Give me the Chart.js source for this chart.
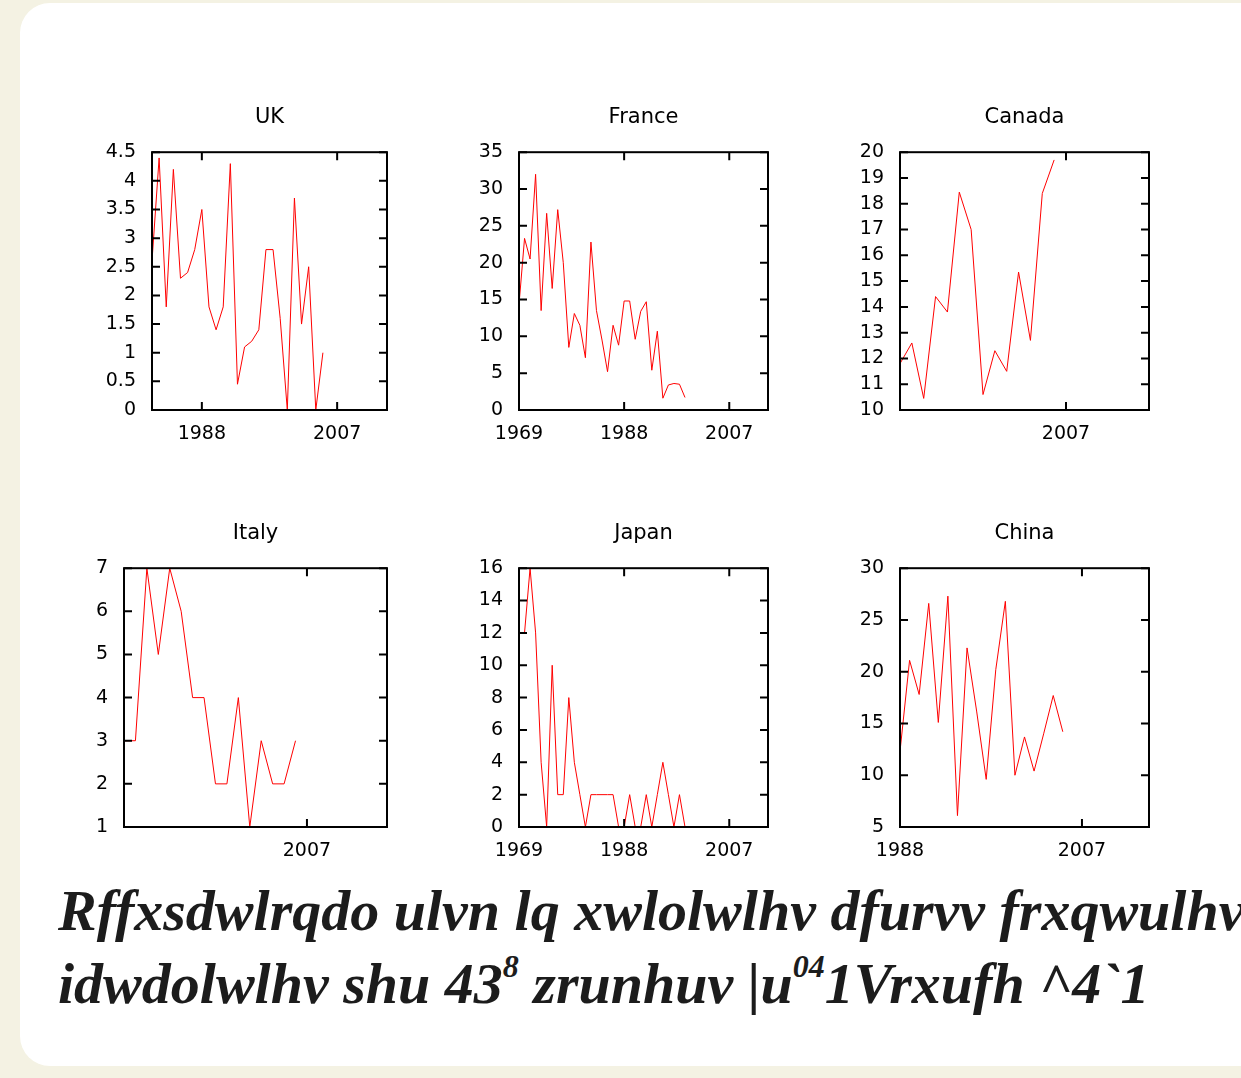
<!DOCTYPE html>
<html>
<head>
<meta charset="utf-8">
<script src="https://cdn.jsdelivr.net/npm/chart.js@4.4.0/dist/chart.umd.min.js"></script>
<style>
html, body { margin: 0; padding: 0; }
body { width: 1241px; height: 1078px; overflow: hidden; background: #f4f2e3; position: relative; }
#sheet { position: absolute; left: 20px; top: 3px; width: 1270px; height: 1063px; background: #fff; border-radius: 30px; }
.panel { position: absolute; }
#caption { position: absolute; left: 58px; top: 874px; font: italic bold 58px 'Liberation Serif', serif;
           line-height: 73px; white-space: nowrap; color: #1c1c1c; }
#caption sup { font-size: 32px; vertical-align: baseline; position: relative; top: -26px; }
</style>
</head>
<body>
<div id="sheet"></div>
<div id="caption">Rffxsdwlrqdo ulvn lq xwlolwlhv dfurvv frxqwulhv<br>idwdolwlhv shu 43<sup>8</sup> zrunhuv |u<sup>04</sup>1Vrxufh ^4`1</div>
<script>
// years on the x axis, one value per year
const years = [1969, 1970, 1971, 1972, 1973, 1974, 1975, 1976, 1977, 1978, 1979, 1980,
               1981, 1982, 1983, 1984, 1985, 1986, 1987, 1988, 1989, 1990, 1991, 1992,
               1993, 1994, 1995, 1996, 1997, 1998, 1999, 2000, 2001, 2002, 2003, 2004,
               2005, 2006];
const xTickYears = [1969, 1988, 2007];
const xMax = 2014;

// first year of each series
const ukStart = 1981, franceStart = 1969, canadaStart = 1993;
const italyStart = 1991, japanStart = 1969, chinaStart = 1988;

const ukValues = [2.6, 4.4, 1.8, 4.2, 2.3, 2.4, 2.8, 3.5, 1.8, 1.4, 1.8, 4.3, 0.45,
                  1.1, 1.2, 1.4, 2.8, 2.8, 1.6, 0, 3.7, 1.5, 2.5, 0, 1.0];
const franceValues = [14.3, 23.3, 20.5, 32, 13.5, 26.7, 16.5, 27.2, 20, 8.5, 13.1, 11.5,
                      7.1, 22.8, 13.5, 9.5, 5.2, 11.5, 8.8, 14.8, 14.8, 9.6, 13.4, 14.7,
                      5.4, 10.7, 1.6, 3.4, 3.6, 3.5, 1.7];
const canadaValues = [11.8, 12.6, 10.45, 14.4, 13.8, 18.45, 17.0, 10.6, 12.3, 11.5,
                      15.35, 12.7, 18.4, 19.7];
const italyValues = [3, 3, 7, 5, 7, 6, 4, 4, 2, 2, 4, 1, 3, 2, 2, 3];
const japanValues = [12, 12, 16, 12, 4, 0, 10, 2, 2, 8, 4, 2, 0, 2, 2, 2, 2, 2, 0, 0,
                     2, 0, 0, 2, 0, 2, 4, 2, 0, 2, 0];
const chinaValues = [12.3, 21.1, 17.8, 26.6, 15.1, 27.3, 6.1, 22.3, 16.2, 9.6, 20.2,
                     26.8, 10.0, 13.7, 10.4, 14.0, 17.7, 14.2];

// y tick ranges: [min, max, step]
const ukTicks = [0, 4.5, 0.5];
const franceTicks = [0, 35, 5];
const canadaTicks = [10, 20, 1];
const italyTicks = [1, 7, 1];
const japanTicks = [0, 16, 2];
const chinaTicks = [5, 30, 5];

// box drawn like gnuplot: frame plus inward ticks on all four sides
const framePlugin = {
    id: 'frame',
    afterDatasetsDraw(chart) {
        const ctx = chart.ctx, a = chart.chartArea;
        const x = chart.scales.x, y = chart.scales.y;
        ctx.save();
        ctx.strokeStyle = '#000';
        ctx.lineWidth = 2;
        ctx.beginPath();
        x.ticks.forEach(t => {
            const px = x.getPixelForValue(t.value);
            ctx.moveTo(px, a.bottom); ctx.lineTo(px, a.bottom - 8);
            ctx.moveTo(px, a.top); ctx.lineTo(px, a.top + 8);
        });
        y.ticks.forEach(t => {
            const py = y.getPixelForValue(t.value);
            ctx.moveTo(a.left, py); ctx.lineTo(a.left + 8, py);
            ctx.moveTo(a.right, py); ctx.lineTo(a.right - 8, py);
        });
        ctx.stroke();
        ctx.strokeRect(a.left, a.top, a.right - a.left, a.bottom - a.top);
        ctx.restore();
    }
};

function makePanel(title, start, values, yTicks, box) {
    const [L, T, R, B] = box;
    const div = document.createElement('div');
    div.className = 'panel';
    div.style.left = (L - 80) + 'px';
    div.style.top = (T - 60) + 'px';
    const canvas = document.createElement('canvas');
    canvas.width = R - L + 100;
    canvas.height = B - T + 100;
    canvas.style.width = canvas.width + 'px';
    canvas.style.height = canvas.height + 'px';
    div.appendChild(canvas);
    document.body.appendChild(div);

    const first = years.indexOf(start);
    const points = values.map((v, i) => ({ x: years[first + i], y: v }));
    const tickFont = { family: 'DejaVu Sans', size: 19, lineHeight: 1.2 };

    return new Chart(canvas.getContext('2d'), {
        type: 'line',
        data: {
            datasets: [{
                label: title,
                data: points,
                borderColor: '#ff0000',
                borderWidth: 1,
                pointRadius: 0,
                tension: 0,
                fill: false
            }]
        },
        options: {
            responsive: false,
            animation: false,
            layout: { padding: { top: 13, right: 20, bottom: 0, left: 0 } },
            plugins: {
                legend: { display: false },
                tooltip: { enabled: false },
                title: {
                    display: true,
                    fullSize: false,
                    text: title,
                    color: '#000',
                    font: { family: 'DejaVu Sans', size: 21, weight: 'normal', lineHeight: 1.2 },
                    padding: { top: 0, bottom: 22 }
                }
            },
            scales: {
                x: {
                    type: 'linear',
                    min: start,
                    max: xMax,
                    grid: { display: false, drawTicks: false },
                    border: { display: false },
                    ticks: { color: '#000', font: tickFont, padding: 13, maxRotation: 0,
                             autoSkip: false, callback: v => String(v) },
                    afterBuildTicks: s => {
                        s.ticks = xTickYears.filter(v => v >= s.min && v <= s.max).map(v => ({ value: v }));
                    },
                    afterFit: s => { s.height = 40; }
                },
                y: {
                    min: yTicks[0],
                    max: yTicks[1],
                    grid: { display: false, drawTicks: false },
                    border: { display: false },
                    ticks: { stepSize: yTicks[2], color: '#000', font: tickFont, padding: 16,
                             autoSkip: false, callback: v => String(v) },
                    afterFit: s => { s.width = 80; }
                }
            }
        },
        plugins: [framePlugin]
    });
}

makePanel('UK', ukStart, ukValues, ukTicks, [152, 152, 387, 410]);
makePanel('France', franceStart, franceValues, franceTicks, [519, 152, 768, 410]);
makePanel('Canada', canadaStart, canadaValues, canadaTicks, [900, 152, 1149, 410]);
makePanel('Italy', italyStart, italyValues, italyTicks, [124, 568, 387, 827]);
makePanel('Japan', japanStart, japanValues, japanTicks, [519, 568, 768, 827]);
makePanel('China', chinaStart, chinaValues, chinaTicks, [900, 568, 1149, 827]);
</script>
</body>
</html>
